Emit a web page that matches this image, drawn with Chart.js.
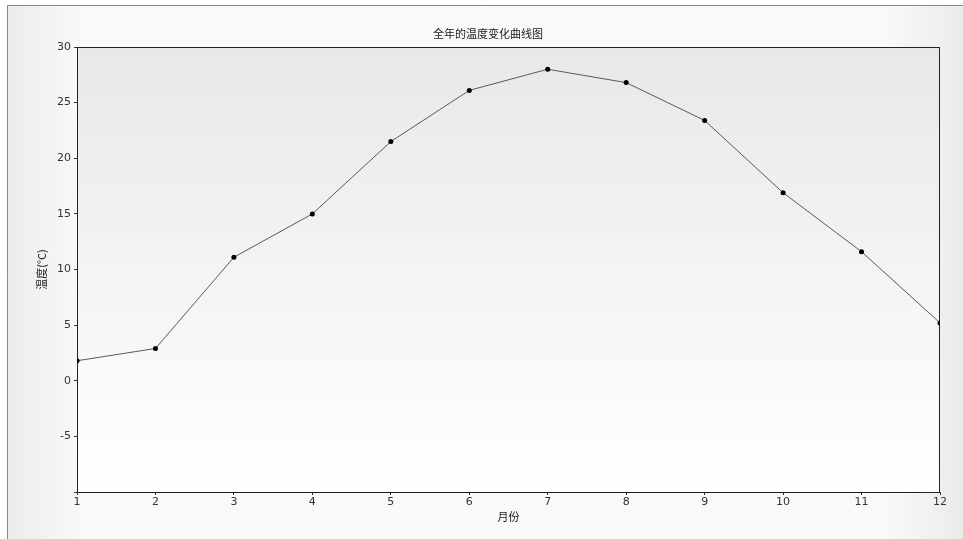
<!DOCTYPE html>
<html>
<head>
<meta charset="utf-8">
<script src="https://cdn.jsdelivr.net/npm/chart.js@4"></script>
<style>
  html, body { margin: 0; padding: 0; background: #fff; }
  canvas { display: block; }
</style>
</head>
<body>
<canvas id="chart" width="963" height="539"></canvas>
<script>
const months = ["1", "2", "3", "4", "5", "6", "7", "8", "9", "10", "11", "12"];
const temps = [1.8, 2.9, 11.1, 15.0, 21.5, 26.1, 28.0, 26.8, 23.4, 16.9, 11.6, 5.2];
const chartTitle = "全年的温度变化曲线图";
const xTitle = "月份";
const yTitle = "温度(°C)";

const cjk = "'Noto Sans CJK SC', 'DejaVu Sans', sans-serif";
const tickFont = { family: "'DejaVu Sans', sans-serif", size: 11 };

// page background, outer frame, plot gradient, plot border, centred title
const backdrop = {
    id: "backdrop",
    beforeDraw(chart) {
        const { ctx, width, height, chartArea: a } = chart;
        ctx.save();
        ctx.fillStyle = "#ffffff";
        ctx.fillRect(0, 0, width, height);
        const g = ctx.createLinearGradient(7, 0, width, 0);
        g.addColorStop(0, "#ececec");
        g.addColorStop(0.08, "#f9f9f9");
        g.addColorStop(0.92, "#f9f9f9");
        g.addColorStop(1, "#ebebeb");
        ctx.fillStyle = g;
        ctx.fillRect(7, 5, width - 7, height - 5);
        ctx.strokeStyle = "#8a8a8a";
        ctx.lineWidth = 1;
        ctx.beginPath();
        ctx.moveTo(7.5, height);
        ctx.lineTo(7.5, 5.5);
        ctx.lineTo(width, 5.5);
        ctx.stroke();

        const pg = ctx.createLinearGradient(0, a.top, 0, a.bottom);
        pg.addColorStop(0, "#e8e8e8");
        pg.addColorStop(1, "#ffffff");
        ctx.fillStyle = pg;
        ctx.fillRect(a.left, a.top, a.right - a.left, a.bottom - a.top);

        ctx.fillStyle = "#1a1a1a";
        ctx.font = "11px " + cjk;
        ctx.textAlign = "center";
        ctx.textBaseline = "middle";
        ctx.fillText(chartTitle, 488, 34);
        ctx.restore();
    },
    beforeDatasetsDraw(chart) {
        const { ctx, chartArea: a } = chart;
        ctx.save();
        ctx.strokeStyle = "#222";
        ctx.lineWidth = 1;
        ctx.strokeRect(Math.round(a.left) + 0.5, Math.round(a.top) + 0.5,
            Math.round(a.right - a.left) - 1, Math.round(a.bottom - a.top));
        ctx.restore();
    }
};

new Chart(document.getElementById("chart"), {
    type: "line",
    data: {
        labels: months,
        datasets: [{
            data: temps,
            borderColor: "#5a5a5a",
            borderWidth: 1,
            pointRadius: 2.5,
            pointBackgroundColor: "#000",
            pointBorderWidth: 0,
            tension: 0,
            clip: 0
        }]
    },
    options: {
        responsive: false,
        animation: false,
        layout: { padding: { top: 47, right: 23, left: 0, bottom: 0 } },
        plugins: {
            legend: { display: false },
            tooltip: { enabled: false }
        },
        scales: {
            x: {
                offset: false,
                afterFit: s => { s.height = 47; },
                border: { display: false },
                grid: { drawOnChartArea: false, drawTicks: true, tickLength: 3, color: "#333" },
                ticks: { color: "#333", font: tickFont, padding: 1, maxRotation: 0 },
                title: { display: true, text: xTitle, color: "#1a1a1a", font: { family: cjk, size: 11 }, padding: { top: 0, bottom: 16 } }
            },
            y: {
                min: -10,
                max: 30,
                afterFit: s => { s.width = 77; },
                border: { display: false },
                grid: { drawOnChartArea: false, drawTicks: true, tickLength: 3, color: "#333" },
                ticks: {
                    stepSize: 5,
                    color: "#333",
                    font: tickFont,
                    padding: 3,
                    callback: v => (v === -10 ? "" : v)
                },
                title: { display: true, text: yTitle, color: "#1a1a1a", font: { family: cjk, size: 11 }, padding: { top: 35, bottom: 0 } }
            }
        }
    },
    plugins: [backdrop]
});
</script>
</body>
</html>
